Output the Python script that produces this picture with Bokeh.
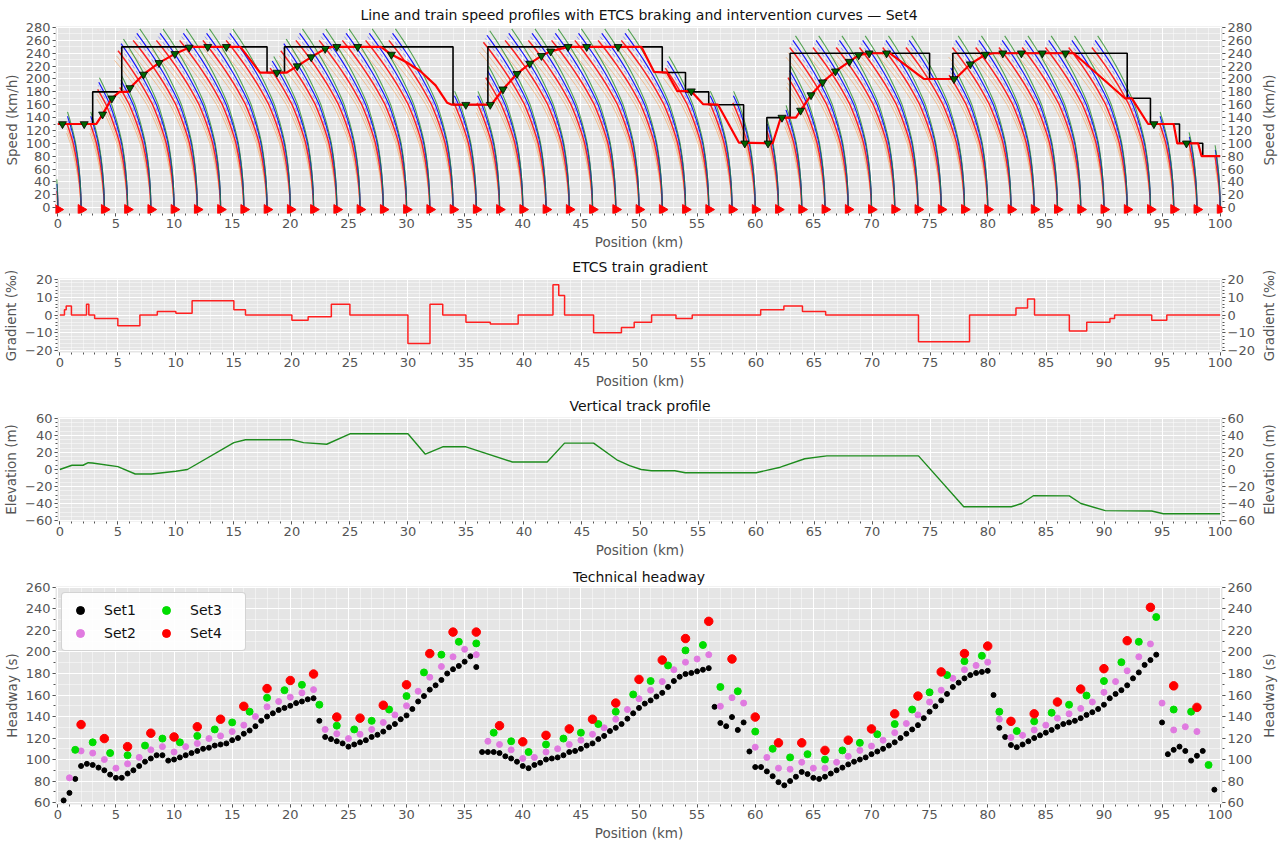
import numpy as np
from bokeh.plotting import figure
from bokeh.layouts import column, row
from bokeh.models import LinearAxis, Range1d, Legend, LegendItem, SingleIntervalTicker, Title
from bokeh.embed import file_html
from bokeh.resources import INLINE

FONT = "DejaVu Sans"

# ---------------- data ----------------
# line speed limit (step profile): segment edges and speed on each segment
limit_edges = [0, 3, 5.5, 18, 19.5, 34, 37, 52, 54, 56, 59, 61, 63, 75, 77, 92, 94, 96.5, 98.5, 100]
limit_speeds = [130, 180, 250, 210, 250, 160, 250, 210, 180, 160, 100, 140, 240, 200, 240, 170, 130, 100, 80]

# train speed profile (Set4)
profile_x = [0, 3.3, 3.85, 4.65, 5.3, 6.05, 6.2, 7.37, 8.7, 10.07, 11.3, 11.6, 15.7, 17.4, 19.7, 20.6, 21.8,
             23.0, 23.6, 27.8, 28.7, 30.0, 31.2, 32.5, 33.5, 33.9, 37.3, 38.3, 39.5, 40.6, 41.6, 42.4, 43.9,
             50.2, 51.3, 52.4, 53.3, 54.5, 55.5, 56.8, 58.6, 61.5, 62.2, 63.5, 63.9, 64.8, 65.8, 66.9, 68.1,
             68.9, 69.8, 71.6, 74.5, 77.2, 78.5, 79.8, 80.5, 87.4, 91.8, 92.4, 93.8, 96.0, 96.3, 98.1, 98.4, 100]
profile_v = [130, 130, 145, 170, 180, 180, 186, 207, 225, 239, 249, 250, 250, 210, 210, 220, 234,
             247, 250, 250, 238, 226, 212, 190, 163, 160, 160, 184, 208, 224, 236, 243, 250,
             250, 211, 210, 181, 181, 161, 160, 101, 100, 140, 140, 151, 175, 195, 212, 227,
             237, 240, 240, 200, 200, 223, 238, 240, 240, 170, 170, 130, 130, 100, 100, 80, 80]

# sampled points on the train profile (green markers)
marker_x = [0.4, 2.27, 3.85, 4.65, 6.2, 7.37, 8.7, 10.07, 11.3, 12.9, 14.5, 18.85, 20.6, 21.8, 23.0, 24.0,
            25.8, 28.7, 35.1, 37.2, 38.3, 39.5, 40.6, 41.6, 42.4, 43.9, 45.5, 48.2, 54.5, 59.1, 61.1, 62.3,
            63.9, 64.8, 65.8, 66.9, 68.1, 68.9, 69.8, 71.3, 77.1, 78.5, 79.8, 81.3, 82.9, 84.7, 86.7, 94.3, 97.1]
marker_v = [130, 130, 145, 170, 186, 207, 225, 239, 249, 250, 250, 210, 220, 234, 247, 250,
            250, 238, 160, 160, 184, 208, 224, 236, 243, 250, 250, 250, 181, 100, 100, 140,
            151, 175, 195, 212, 227, 237, 240, 240, 200, 223, 238, 240, 240, 240, 240, 130, 100]

# stopping points (red triangles) and the top speed of each braking-curve family
stop_x = [0, 2, 4, 6, 8, 10, 12, 14, 16, 18, 20, 22, 24, 26, 28, 30, 32, 34, 36, 38, 40, 42, 44, 46, 48, 50,
          52, 54, 56, 58, 60, 62, 64, 66, 68, 70, 72, 74, 76, 78, 80, 82, 84, 86, 88, 90, 92, 94, 96, 98, 100]
curve_top = [35, 140, 140, 193, 196, 253, 269, 269, 269, 269, 269, 226, 253, 269, 269, 269, 269, 269, 172, 172,
             211, 266, 269, 269, 269, 269, 269, 269, 226, 172, 172, 128, 150, 211, 258, 258, 258, 258, 258,
             258, 215, 258, 258, 258, 258, 258, 258, 258, 140, 108, 88]
stop_marker_level = -3

# braking curve shape: distance before the stopping point (km) for each speed (km/h)
brake_v = [0, 10, 20, 30, 40, 50, 60, 70, 80, 90, 100, 110, 120, 130, 140, 150, 160, 170, 180, 190, 200,
           210, 220, 230, 240, 250, 260, 270, 280]
brake_d = [0, 0.005, 0.021, 0.046, 0.082, 0.129, 0.185, 0.252, 0.329, 0.417, 0.514, 0.649, 0.797, 0.957,
           1.131, 1.317, 1.516, 1.771, 2.041, 2.326, 2.627, 2.944, 3.276, 3.623, 3.985, 4.364, 4.757, 5.166, 5.590]

# gradient (per mille), step profile
grad_edges = [0, 0.4, 0.55, 1.0, 2.3, 2.5, 3.0, 5.0, 6.9, 8.4, 10.0, 11.4, 15.0, 16.0, 20.0, 21.4, 23.4, 25.0,
              30.0, 31.9, 33.0, 35.0, 37.1, 39.5, 42.5, 43.0, 43.5, 46.0, 48.4, 49.5, 51.0, 53.1, 54.5, 60.4,
              62.4, 64.0, 66.0, 74.0, 78.4, 82.4, 83.4, 84.0, 87.0, 88.5, 90.5, 90.9, 94.1, 95.4, 100]
grad_vals = [0, 3, 5, 0, 6, 0, -2, -6, 0, 2, 1, 8, 3, 0, -3, -1, 6, 0, -16, 6, 0, -4, -5, 0, 17, 11, 0, -10,
             -7, -4, 0, -2, 0, 3, 5, 2, 0, -15, 0, 4, 9, 0, -9, -4, -2, 0, -3, 0]

# vertical profile (m)
elev_x = [0, 1.05, 2.0, 2.45, 2.8, 5.0, 6.5, 7.9, 10.0, 11.0, 15.0, 16.0, 20.0, 21.0, 23.0, 25.0, 30.0, 31.5,
          33.0, 35.0, 39.0, 42.0, 43.5, 46.0, 48.0, 49.1, 50.1, 51.0, 53.0, 53.9, 60.0, 62.1, 64.2, 66.1, 74.0,
          77.9, 82.0, 82.9, 83.9, 87.0, 88.0, 90.1, 94.1, 95.1, 100]
elev_v = [0, 5, 5, 8, 7.6, 3.4, -5.3, -5.3, -2, 0, 31.6, 35, 35, 31.6, 29.7, 42, 42, 18, 26.7, 26.7, 8.8, 8.8,
          31, 31, 11.4, 4.6, 0, -1.5, -1.5, -3.8, -3.8, 2.7, 12.6, 16, 16, -43.8, -43.8, -40, -30.9, -31, -40,
          -48.4, -48.8, -52, -52]

# technical headway (s)
set1_x = [0.5, 1.0, 1.5, 2.0, 2.5, 3.0, 3.5, 4.0, 4.5, 5.0, 5.5, 6.0, 6.5, 7.0, 7.5, 8.0, 8.5, 9.0, 9.5, 10.0,
          10.5, 11.0, 11.5, 12.0, 12.5, 13.0, 13.5, 14.0, 14.5, 15.0, 15.5, 16.0, 16.5, 17.0, 17.5, 18.0, 18.5,
          19.0, 19.5, 20.0, 20.5, 21.0, 21.5, 22.0, 22.5, 23.0, 23.5, 24.0, 24.5, 25.0, 25.5, 26.0, 26.5, 27.0,
          27.5, 28.0, 28.5, 29.0, 29.5, 30.0, 30.5, 31.0, 31.5, 32.0, 32.5, 33.0, 33.5, 34.0, 34.5, 35.0, 35.5,
          36.0, 36.5, 37.0, 37.5, 38.0, 38.5, 39.0, 39.5, 40.0, 40.5, 41.0, 41.5, 42.0, 42.5, 43.0, 43.5, 44.0,
          44.5, 45.0, 45.5, 46.0, 46.5, 47.0, 47.5, 48.0, 48.5, 49.0, 49.5, 50.0, 50.5, 51.0, 51.5, 52.0, 52.5,
          53.0, 53.5, 54.0, 54.5, 55.0, 55.5, 56.0, 56.5, 57.0, 57.5, 58.0, 58.5, 59.0, 59.5, 60.0, 60.5, 61.0,
          61.5, 62.0, 62.5, 63.0, 63.5, 64.0, 64.5, 65.0, 65.5, 66.0, 66.5, 67.0, 67.5, 68.0, 68.5, 69.0, 69.5,
          70.0, 70.5, 71.0, 71.5, 72.0, 72.5, 73.0, 73.5, 74.0, 74.5, 75.0, 75.5, 76.0, 76.5, 77.0, 77.5, 78.0,
          78.5, 79.0, 79.5, 80.0, 80.5, 81.0, 81.5, 82.0, 82.5, 83.0, 83.5, 84.0, 84.5, 85.0, 85.5, 86.0, 86.5,
          87.0, 87.5, 88.0, 88.5, 89.0, 89.5, 90.0, 90.5, 91.0, 91.5, 92.0, 92.5, 93.0, 93.5, 94.0, 94.5, 95.0,
          95.5, 96.0, 96.5, 97.0, 97.5, 98.0, 98.5, 99.5]
set1_v = [62, 69, 82, 94, 96, 95, 92.5, 90, 86, 83, 83, 87, 90, 94, 98, 101, 104, 104, 99, 100,
          102, 104, 106, 108, 110, 111, 113, 114, 115, 118, 120, 124, 127, 131, 136, 140, 143,
          146, 148, 150, 152.5, 154, 156, 157, 136, 121, 119, 117, 115, 112, 114, 116, 118, 121,
          123, 126, 130, 133, 137.5, 141, 147, 154, 159, 165, 169, 174, 180, 184, 187, 191, 196,
          186, 107, 107, 107, 106, 103, 101, 98, 94, 92, 95, 97, 100, 101, 102, 104, 107,
          108, 110, 113, 115, 119, 122, 126.5, 129.5, 133, 138, 143, 148, 152, 155, 158.6, 162, 167.5,
          173, 177, 179.5, 180.5, 182, 183.5, 185, 149, 134, 131, 139.5, 127.5, 134.5, 107.5, 93, 93, 89,
          84.5, 79, 76, 80, 84, 88.5, 86.5, 83, 82, 84, 87, 90, 92.5, 95.5, 98, 100, 102,
          105, 107.5, 110, 113, 116, 120, 124, 128, 132, 138.5, 144.5, 149.5, 155, 161, 167.5, 171.5, 175.5,
          178.5, 180.5, 181.5, 182.5, 160, 129.5, 121, 113.5, 111.5, 114, 117, 120, 122.5, 125, 127.5, 130.5, 133,
          134.5, 136, 138.5, 141.5, 144, 147, 151, 157, 161, 164.5, 169, 175.5, 181, 188, 192.5, 197.5, 134.5,
          105, 109, 112, 108, 99, 103.5, 108, 72]

set2_x = [1, 2, 3, 4, 5, 6, 7, 8, 9, 10, 11, 12, 13, 14, 15, 16, 17, 18, 19, 20, 21, 22, 23, 24, 25, 26, 27, 28,
          29, 30, 31, 32, 33, 34, 35, 36, 37, 38, 39, 40, 41, 42, 43, 44, 45, 46, 47, 48, 49, 50, 51, 52, 53,
          54, 55, 56, 57, 58, 59, 60, 61, 62, 63, 64, 65, 66, 67, 68, 69, 70, 71, 72, 73, 74, 75, 76, 77, 78,
          79, 80, 81, 82, 83, 84, 85, 86, 87, 88, 89, 90, 91, 92, 93, 94, 95, 96, 97, 98]
set2_v = [83, 108, 106, 100, 92, 96, 102, 109, 112, 107, 112, 115, 119.5, 122, 126, 132, 140, 149, 154, 158,
          162, 165, 128, 124, 119.5, 123.5, 128, 134.5, 141.5, 150, 163.5, 176.5, 186.5, 195.5, 202.5, 197.5,
          117, 114, 109, 101, 102, 107, 110, 114, 118, 123.5, 129.5, 137.5, 146.5, 156.5, 164.5, 172.5, 183.5,
          190.5, 193.5, 197.5, 149.5, 157.5, 152.5, 111.5, 102, 92, 91, 97.5, 92, 92, 97.5, 103, 108.5, 112.5,
          118, 125, 133.5, 141.5, 153.5, 164.5, 175.5, 183.5, 187.5, 190.5, 137.5, 120.5, 122.5, 127.5, 132,
          138.5, 142.5, 147.5, 153.5, 162.5, 172.5, 182.5, 195.5, 207.5, 152.5, 127.5, 130.5, 126]

set3_x = [1.5, 3, 4.5, 6, 7.5, 9, 10.5, 12, 13.5, 15, 16.5, 18, 19.5, 21, 22.5, 24, 25.5, 27, 28.5, 30, 31.5,
          33, 34.5, 36, 37.5, 39, 40.5, 42, 43.5, 45, 46.5, 48, 49.5, 51, 52.5, 54, 55.5, 57, 58.5, 60, 61.5,
          63, 64.5, 66, 67.5, 69, 70.5, 72, 73.5, 75, 76.5, 78, 79.5, 81, 82.5, 84, 85.5, 87, 88.5, 90, 91.5,
          93, 94.5, 96, 97.5, 99]
set3_v = [109, 116, 106, 104, 113, 119.5, 116, 122, 128, 134.5, 144.5, 157.5, 164.5, 169.5, 151, 131.5, 128,
          136, 146.5, 159, 181, 197.5, 209.5, 208, 125, 117, 107, 114, 119.5, 125, 133, 144.5, 160.5, 173,
          187.5, 201.5, 206.5, 167.5, 163.5, 126, 110, 102, 105, 100, 108.5, 115.5, 123.5, 133, 146.5, 162.5,
          178.5, 191.5, 196.5, 144.5, 126.5, 135.5, 143.5, 151, 159.5, 173, 190.5, 209.5, 232.5, 146.5, 144.5, 95]

set4_x = [2, 4, 6, 8, 10, 12, 14, 16, 18, 20, 22, 24, 26, 28, 30, 32, 34, 36, 38, 40, 42, 44, 46, 48, 50, 52,
          54, 56, 58, 60, 62, 64, 66, 68, 70, 72, 74, 76, 78, 80, 82, 84, 86, 88, 90, 92, 94, 96, 98]
set4_v = [132.5, 119.5, 112, 124.5, 121, 130.5, 137.5, 149.5, 166, 173.5, 179.5, 139.5, 138.5, 150.5, 169.5,
          198.5, 218.5, 218.5, 131.5, 116.5, 122.5, 128.5, 137.5, 152.5, 174.5, 192.5, 212.5, 228.5, 193.5,
          139.5, 115.5, 115.5, 108.5, 118, 128.5, 142.5, 159, 181.5, 198.5, 205.5, 135.5, 142.5, 153.5, 165.5,
          184.5, 210.5, 241.5, 168.5, 148.5]

# ---------------- styling helpers ----------------
TICK_COLOR = "#555555"
X_LO, X_HI = -0.2, 100.2
SIDE_W = 20          # width of the strip that carries the right-hand axis title
MAIN_W = 1278 - SIDE_W


def make_fig(title, ylabel, height, yr, yint, yminor, top, bottom, standoff):
    p = figure(width=MAIN_W, height=height, x_range=Range1d(X_LO, X_HI), y_range=Range1d(*yr),
               output_backend="svg", toolbar_location=None, title=title,
               min_border_left=55, min_border_right=56 - SIDE_W, min_border_top=top, min_border_bottom=bottom)
    p.background_fill_color = "#e5e5e5"
    p.border_fill_color = "white"
    p.outline_line_color = None
    p.title.text_font = FONT
    p.title.text_font_size = "14px"
    p.title.text_font_style = "normal"
    p.title.text_color = "#111111"
    p.title.align = "center"
    p.title.standoff = standoff

    xt = SingleIntervalTicker(interval=5, num_minor_ticks=5)
    yt = SingleIntervalTicker(interval=yint, num_minor_ticks=yminor)
    p.xaxis.ticker = xt
    p.yaxis.ticker = yt
    p.xgrid.ticker = xt
    p.ygrid.ticker = yt
    p.xaxis.axis_label = "Position (km)"
    p.yaxis.axis_label = ylabel
    right = LinearAxis(ticker=yt)
    p.add_layout(right, "right")

    for ax in p.axis:
        ax.axis_line_color = None
        ax.major_tick_line_color = TICK_COLOR
        ax.minor_tick_line_color = TICK_COLOR
        ax.major_tick_in = 0
        ax.major_tick_out = 3
        ax.minor_tick_in = 0
        ax.minor_tick_out = 2
        ax.major_label_text_font = FONT
        ax.major_label_text_font_size = "13px"
        ax.major_label_text_color = TICK_COLOR
        ax.major_label_standoff = 2
        ax.axis_label_text_font = FONT
        ax.axis_label_text_font_size = "13.5px"
        ax.axis_label_text_font_style = "normal"
        ax.axis_label_text_color = TICK_COLOR
        ax.axis_label_standoff = 3

    p.grid.grid_line_color = "white"
    p.grid.grid_line_width = 1
    p.grid.minor_grid_line_color = "white"
    p.grid.minor_grid_line_alpha = 0.45

    # narrow strip to the right carrying the right-hand axis title (reads bottom-to-top)
    side = figure(width=SIDE_W, height=height, x_range=Range1d(0, 1), y_range=Range1d(0, 1),
                  output_backend="svg", toolbar_location=None, x_axis_type=None, y_axis_type=None,
                  min_border_left=0, min_border_right=0, min_border_top=top, min_border_bottom=bottom)
    side.outline_line_color = None
    side.background_fill_color = "white"
    side.border_fill_color = "white"
    side.add_layout(Title(text=ylabel, align="center", text_font=FONT, text_font_size="13.5px",
                          text_font_style="normal", text_color=TICK_COLOR, standoff=1), "left")
    return p, side


# ---------------- panel 1: speed profiles ----------------
p1, s1 = make_fig("Line and train speed profiles with ETCS braking and intervention curves \u2014 Set4",
                  "Speed (km/h)", 252, (-9.1, 281.6), 20, 2, 26, 35, 8)

# curve family styles: distance scale, reaction time (s), top-speed offset
members = [
    dict(f=1.25, T=10, off=-24, color="#f4a460", w=0.9, a=0.7, dash="solid"),
    dict(f=1.17, T=7, off=-17, color="#f0a060", w=0.9, a=0.7, dash="solid"),
    dict(f=1.10, T=4, off=-9, color="#ff0000", w=1.5, a=0.85, dash="solid"),
    dict(f=1.04, T=2, off=-3, color="#6060ff", w=1.0, a=0.6, dash="4 3"),
    dict(f=1.00, T=0, off=2, color="#0000ff", w=1.2, a=0.9, dash="solid"),
    dict(f=0.90, T=0, off=9, color="#228b22", w=1.1, a=0.75, dash="solid"),
]
for m in members:
    xs, ys = [], []
    for s, t in zip(stop_x, curve_top):
        tm = t + m["off"]
        if tm <= 0:
            continue
        vs = [v for v in brake_v if v < tm] + [tm]
        ds = np.interp(vs, brake_v, brake_d) * m["f"] + np.array(vs) / 3.6 * m["T"] / 1000.0
        xs.append([s - d for d in ds])
        ys.append(vs)
    p1.multi_line(xs, ys, line_color=m["color"], line_width=m["w"], line_alpha=m["a"], line_dash=m["dash"])

p1.step(limit_edges, limit_speeds + [limit_speeds[-1]], mode="after", line_color="black", line_width=1.6)
p1.line(profile_x, profile_v, line_color="#ff0000", line_width=2.2)
p1.scatter(marker_x, marker_v, marker="inverted_triangle", size=8, fill_color="#006400",
           line_color="black", line_width=0.8)
p1.scatter(stop_x, [stop_marker_level] * len(stop_x), marker="triangle", angle=-np.pi / 2, size=10,
           fill_color="#ff0000", line_color="#ff0000")

# ---------------- panel 2: gradient ----------------
p2, s2 = make_fig("ETCS train gradient", "Gradient (\u2030)", 139, (-21.05, 20.5), 10, 5, 26, 34, 8)
p2.step(grad_edges, grad_vals + [grad_vals[-1]], mode="after", line_color="#ff2020", line_width=1.5)

# ---------------- panel 3: elevation ----------------
p3, s3 = make_fig("Vertical track profile", "Elevation (m)", 169, (-61.15, 61.15), 20, 4, 26, 37, 8)
p3.line(elev_x, elev_v, line_color="#1e8c1e", line_width=1.4)

# ---------------- panel 4: headway ----------------
p4, s4 = make_fig("Technical headway", "Headway (s)", 283, (58.2, 260.9), 20, 2, 26, 36, 3)
r1 = p4.scatter(set1_x, set1_v, size=5, color="black")
r2 = p4.scatter(set2_x, set2_v, size=6, color="#e07ae0")
r3 = p4.scatter(set3_x, set3_v, size=7, color="#00dd00")
r4 = p4.scatter(set4_x, set4_v, size=8.5, color="#ff0000")
legend = Legend(items=[LegendItem(label="Set1", renderers=[r1]), LegendItem(label="Set2", renderers=[r2]),
                       LegendItem(label="Set3", renderers=[r3]), LegendItem(label="Set4", renderers=[r4])],
                location="top_left", ncols=2)
legend.label_text_font = FONT
legend.label_text_font_size = "14px"
legend.label_text_color = "#111111"
legend.background_fill_color = "white"
legend.background_fill_alpha = 0.9
legend.border_line_color = "#aaaaaa"
legend.margin = 6
legend.padding = 7
legend.spacing = 3
legend.glyph_width = 22
legend.label_standoff = 13
legend.label_width = 48
try:
    legend.border_radius = 4
except Exception:
    pass
p4.add_layout(legend)

layout = column(row(p1, s1, spacing=0), row(p2, s2, spacing=0), row(p3, s3, spacing=0),
                row(p4, s4, spacing=0), spacing=0)
open("out.html", "w").write(file_html(layout, INLINE))
